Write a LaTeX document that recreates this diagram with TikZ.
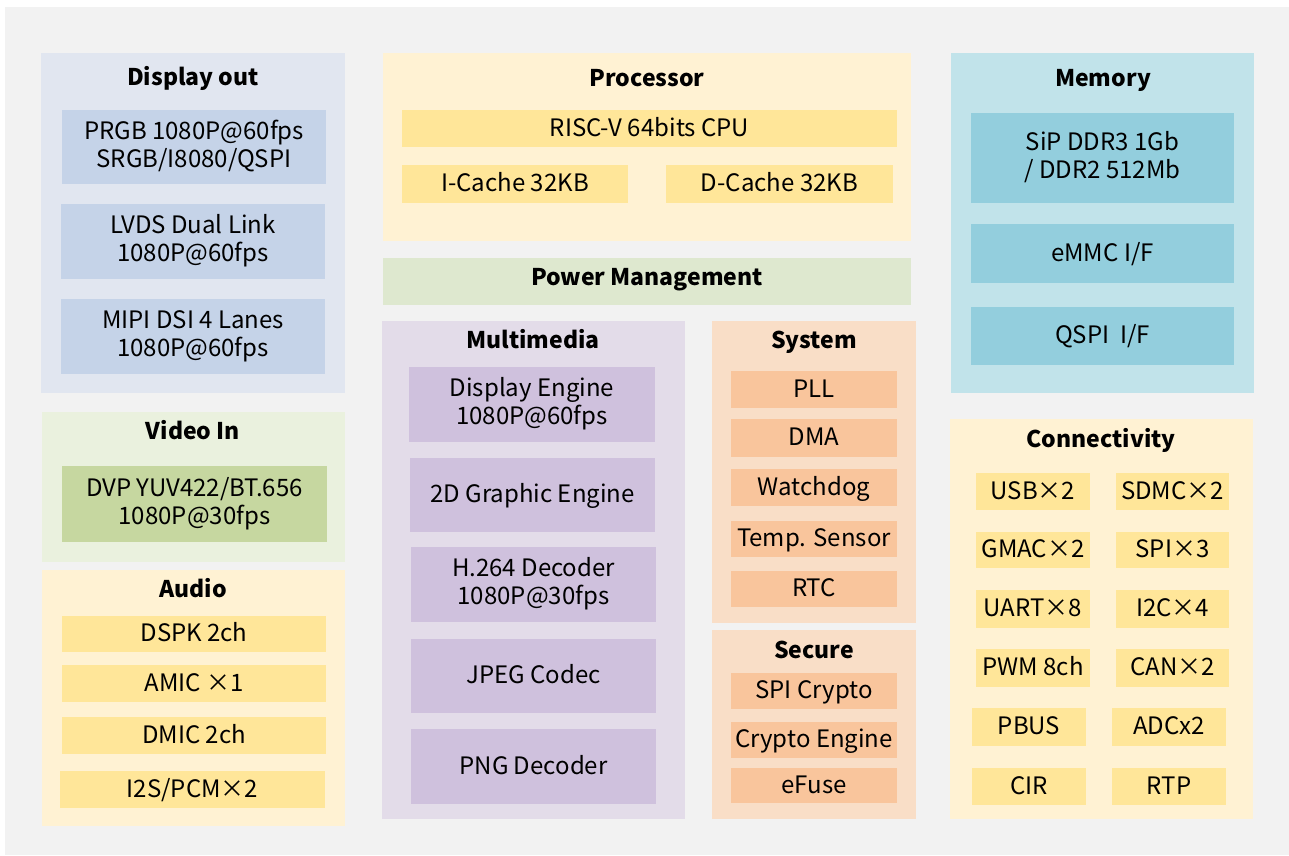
\documentclass[tikz,border=0pt]{standalone}
\usepackage{fontspec}
\setmainfont{Noto Sans CJK SC}
\definecolor{bggray}{HTML}{F2F2F2}
\definecolor{dispP}{HTML}{E1E6F0}
\definecolor{dispI}{HTML}{C5D3E8}
\definecolor{vidP}{HTML}{EAF1DE}
\definecolor{vidI}{HTML}{C6D7A0}
\definecolor{yelP}{HTML}{FFF2D3}
\definecolor{yelI}{HTML}{FFE699}
\definecolor{powP}{HTML}{DEE8CF}
\definecolor{mmP}{HTML}{E3DCE9}
\definecolor{mmI}{HTML}{CFC1DD}
\definecolor{sysP}{HTML}{F9DEC7}
\definecolor{sysI}{HTML}{F9C59C}
\definecolor{memP}{HTML}{C1E3EA}
\definecolor{memI}{HTML}{93CEDD}
\tikzset{
  bb/.style n args={4}{minimum width={#3-#1}, minimum height={#4-#2},
    at={({(#1+#3)/2},{(#2+#4)/2})}},
  panel/.style={draw=none, inner sep=0pt, outer sep=0pt},
  blk/.style={draw=none, inner sep=0pt, outer sep=0pt, align=center,
    font=\fontsize{24}{28}\selectfont, text=black,
    text height=17.6pt, text depth=2pt},
  two/.style={text height=45.6pt, text depth=5pt},
  ttl/.style={inner sep=0pt, anchor=base, font=\fontsize{23}{26}\selectfont\bfseries, text=black},
}
\begin{document}
\begin{tikzpicture}[x=1pt,y=-1pt]
\useasboundingbox (0,0) rectangle (1289,855);
\fill[bggray] (5,7) rectangle (1289,855);

% Display out
\node[panel, fill=dispP, bb={41}{53}{345}{393}] (disp) {};
\node[ttl] (dispt) at (193,85) {Display out};
\node[blk, two, fill=dispI, bb={62}{110}{326}{184}] (prgb) {PRGB 1080P@60fps\\SRGB/I8080/QSPI};
\node[blk, two, fill=dispI, bb={61}{204}{325}{279}] (lvds) {LVDS Dual Link\\1080P@60fps};
\node[blk, two, fill=dispI, bb={61}{299}{325}{374}] (mipi) {MIPI DSI 4 Lanes\\1080P@60fps};

% Video In
\node[panel, fill=vidP, bb={42}{412}{345}{562}] (vid) {};
\node[ttl] (vidt) at (193,439) {Video In};
\node[blk, two, fill=vidI, bb={62}{466}{327}{542}] (dvp) {DVP YUV422/BT.656\\1080P@30fps};

% Audio
\node[panel, fill=yelP, bb={42}{570}{345}{826}] (aud) {};
\node[ttl] (audt) at (193,597) {Audio};
\node[blk, fill=yelI, bb={62}{616}{326}{652}] (dspk) {DSPK 2ch};
\node[blk, fill=yelI, bb={62}{665}{326}{702}] (amic) {AMIC ×1};
\node[blk, fill=yelI, bb={62}{717}{326}{754}] (dmic) {DMIC 2ch};
\node[blk, fill=yelI, bb={60}{771}{325}{808}] (i2s) {I2S/PCM×2};

% Processor
\node[panel, fill=yelP, bb={383}{53}{911}{241}] (proc) {};
\node[ttl] (proct) at (647,86) {Processor};
\node[blk, fill=yelI, bb={402}{110}{897}{147}] (cpu) {RISC-V 64bits CPU};
\node[blk, fill=yelI, bb={402}{165}{628}{203}] (icache) {I-Cache 32KB};
\node[blk, fill=yelI, bb={666}{165}{893}{203}] (dcache) {D-Cache 32KB};

% Power
\node[panel, fill=powP, bb={383}{258}{911}{305}] (pow) {};
\node[ttl] (powt) at (647,285) {Power Management};

% Multimedia
\node[panel, fill=mmP, bb={382}{321}{685}{819}] (mm) {};
\node[ttl] (mmt) at (533,348) {Multimedia};
\node[blk, two, fill=mmI, bb={409}{367}{655}{442}] (deng) {Display Engine\\1080P@60fps};
\node[blk, fill=mmI, bb={410}{458}{655}{532}] (g2d) {2D Graphic Engine};
\node[blk, two, fill=mmI, bb={411}{547}{656}{622}] (h264) {H.264 Decoder\\1080P@30fps};
\node[blk, fill=mmI, bb={411}{639}{656}{713}] (jpeg) {JPEG Codec};
\node[blk, fill=mmI, bb={411}{729}{656}{804}] (png) {PNG Decoder};

% System
\node[panel, fill=sysP, bb={712}{321}{916}{623}] (sys) {};
\node[ttl] (syst) at (814,348) {System};
\node[blk, fill=sysI, bb={731}{371}{897}{408}] (pll) {PLL};
\node[blk, fill=sysI, bb={731}{419}{897}{457}] (dma) {DMA};
\node[blk, fill=sysI, bb={731}{469}{897}{506}] (wdog) {Watchdog};
\node[blk, fill=sysI, bb={731}{521}{897}{557}] (temp) {Temp. Sensor};
\node[blk, fill=sysI, bb={731}{571}{897}{607}] (rtc) {RTC};

% Secure
\node[panel, fill=sysP, bb={712}{630}{916}{819}] (sec) {};
\node[ttl] (sect) at (814,658) {Secure};
\node[blk, fill=sysI, bb={731}{673}{897}{709}] (spic) {SPI Crypto};
\node[blk, fill=sysI, bb={731}{722}{897}{758}] (ceng) {Crypto Engine};
\node[blk, fill=sysI, bb={731}{768}{897}{803}] (efuse) {eFuse};

% Memory
\node[panel, fill=memP, bb={951}{53}{1254}{393}] (mem) {};
\node[ttl] (memt) at (1103,86) {Memory};
\node[blk, two, fill=memI, bb={971}{113}{1234}{203}] (ddr) {SiP DDR3 1Gb\\/ DDR2 512Mb};
\node[blk, fill=memI, bb={971}{224}{1234}{283}] (emmc) {eMMC I/F};
\node[blk, fill=memI, bb={971}{307}{1234}{365}] (qspi) {QSPI\ \ I/F};

% Connectivity
\node[panel, fill=yelP, bb={950}{419}{1253}{819}] (conn) {};
\node[ttl] (connt) at (1101,447) {Connectivity};
\node[blk, fill=yelI, bb={976}{473}{1090}{510}] (usb) {USB×2};
\node[blk, fill=yelI, bb={1116}{473}{1229}{510}] (sdmc) {SDMC×2};
\node[blk, fill=yelI, bb={976}{532}{1090}{568}] (gmac) {GMAC×2};
\node[blk, fill=yelI, bb={1116}{532}{1229}{568}] (spi) {SPI×3};
\node[blk, fill=yelI, bb={976}{590}{1090}{628}] (uart) {UART×8};
\node[blk, fill=yelI, bb={1116}{590}{1229}{628}] (i2c) {I2C×4};
\node[blk, fill=yelI, bb={976}{649}{1090}{687}] (pwm) {PWM 8ch};
\node[blk, fill=yelI, bb={1116}{649}{1229}{687}] (can) {CAN×2};
\node[blk, fill=yelI, bb={972}{708}{1086}{746}] (pbus) {PBUS};
\node[blk, fill=yelI, bb={1112}{708}{1226}{746}] (adc) {ADCx2};
\node[blk, fill=yelI, bb={972}{768}{1086}{805}] (cir) {CIR};
\node[blk, fill=yelI, bb={1112}{768}{1226}{805}] (rtp) {RTP};
\end{tikzpicture}
\end{document}
